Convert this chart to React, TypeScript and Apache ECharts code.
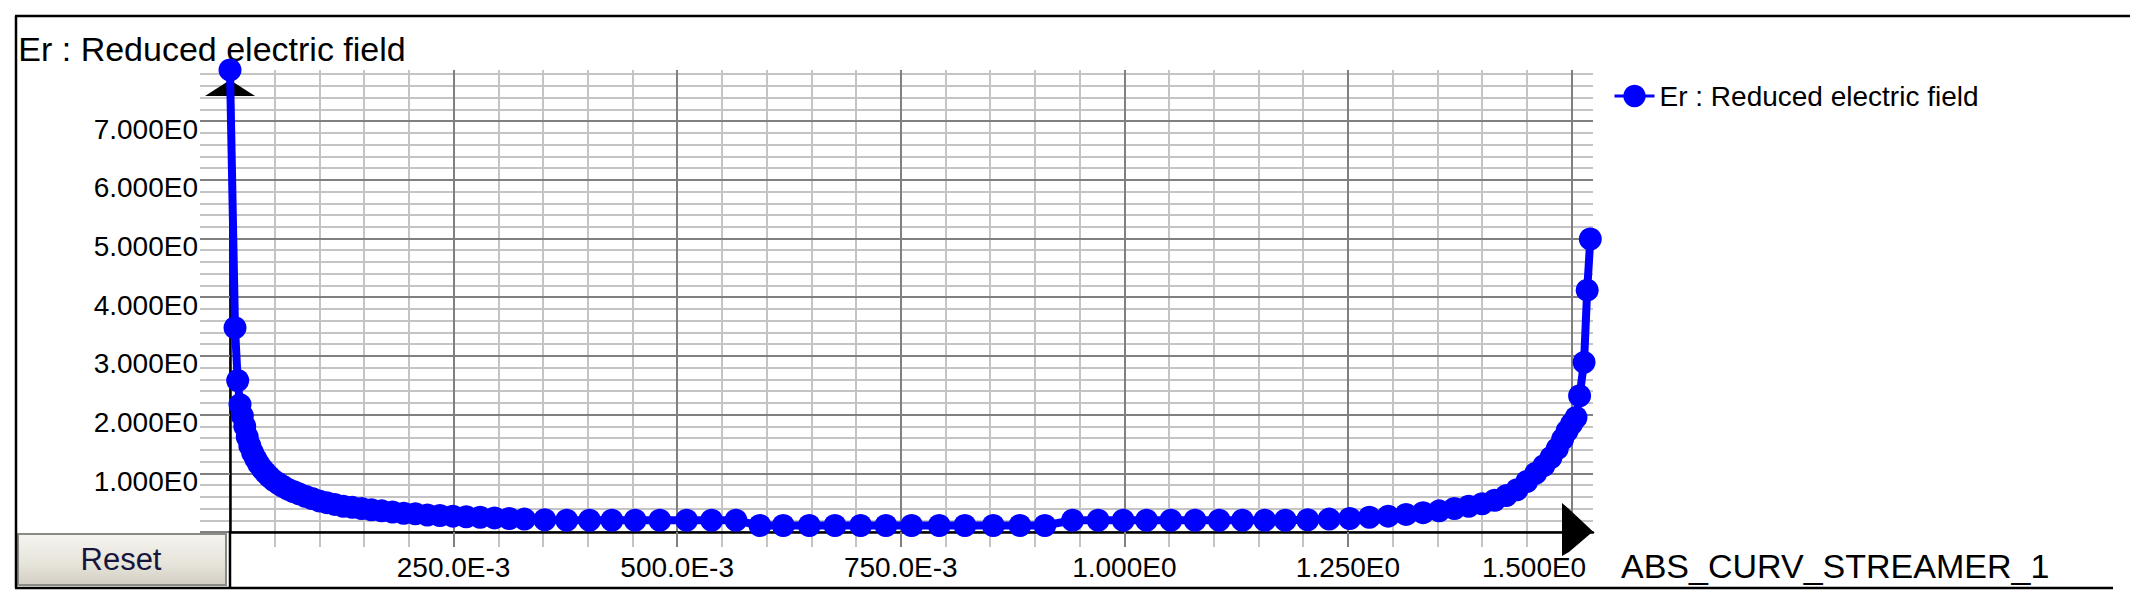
import React, { useEffect, useRef } from 'react';
import * as echarts from 'echarts';

// ---- data ----
const seriesName = 'Er : Reduced electric field';
const xAxisName = 'ABS_CURV_STREAMER_1';

const xValues = [
  0, 0.0056, 0.0086, 0.0112, 0.0138, 0.0165, 0.0193, 0.0222, 0.0253, 0.0286,
  0.0321, 0.0358, 0.0398, 0.0441, 0.0487, 0.0536, 0.0589, 0.0646, 0.0707, 0.0772,
  0.0842, 0.0917, 0.0997, 0.1082, 0.1172, 0.1267, 0.1367, 0.1472, 0.1582, 0.1697,
  0.1817, 0.1942, 0.2072, 0.2207, 0.2347, 0.2492, 0.2642, 0.2797, 0.2957, 0.3122,
  0.3292, 0.352, 0.3765, 0.402, 0.427, 0.453, 0.4806, 0.5105, 0.5385, 0.5657,
  0.5925, 0.6186, 0.6477, 0.6764, 0.7051, 0.7334, 0.7621, 0.793, 0.8217, 0.8534,
  0.8832, 0.9111, 0.9421, 0.9707, 0.9987, 1.0248, 1.052, 1.079, 1.106, 1.132,
  1.157, 1.18, 1.205, 1.229, 1.252, 1.274, 1.295, 1.315, 1.334, 1.352,
  1.369, 1.385, 1.4, 1.414, 1.427, 1.439, 1.45, 1.46, 1.469, 1.477,
  1.484, 1.49, 1.495, 1.5, 1.505, 1.509, 1.514, 1.5175, 1.521,
];
const yValues = [
  7.87, 3.48, 2.58, 2.17, 1.98, 1.8, 1.62, 1.47, 1.35, 1.25,
  1.16, 1.08, 1.01, 0.94, 0.88, 0.83, 0.78, 0.73, 0.69, 0.65,
  0.61, 0.57, 0.53, 0.5, 0.47, 0.44, 0.42, 0.4, 0.38, 0.36,
  0.34, 0.32, 0.31, 0.29, 0.28, 0.27, 0.26, 0.25, 0.24, 0.23,
  0.22, 0.21, 0.2, 0.2, 0.2, 0.2, 0.2, 0.2, 0.2, 0.2,
  0.11, 0.11, 0.11, 0.11, 0.11, 0.11, 0.11, 0.11, 0.11, 0.11,
  0.11, 0.11, 0.2, 0.2, 0.2, 0.2, 0.2, 0.2, 0.2, 0.2,
  0.2, 0.2, 0.21, 0.22, 0.23, 0.25, 0.27, 0.3, 0.33, 0.36,
  0.4, 0.44, 0.48, 0.54, 0.62, 0.72, 0.86, 1.0, 1.13, 1.27,
  1.42, 1.58, 1.72, 1.84, 1.95, 2.32, 2.89, 4.12, 4.99,
];

const xMajorTicks = [0, 0.25, 0.5, 0.75, 1, 1.25, 1.5];
const xTickLabels = ['', '250.0E-3', '500.0E-3', '750.0E-3', '1.000E0', '1.250E0', '1.500E0'];
const yMajorTicks = [0, 1, 2, 3, 4, 5, 6, 7];
const yTickLabels = ['', '1.000E0', '2.000E0', '3.000E0', '4.000E0', '5.000E0', '6.000E0', '7.000E0'];
const X_MAX = 1.524;
const Y_MAX = 7.87;
const X_MINOR_STEP = 0.05;
const Y_MINOR_STEP = 0.2;

const FONT = '"Liberation Sans", Arial, sans-serif';
const DARK = '#808080';
const LIGHT = '#c4c4c4';
const BLUE = '#0000ff';

function minorValues(step: number, max: number, every: number): number[] {
  const out: number[] = [];
  for (let i = 1; i * step <= max + 1e-9; i++) {
    if (i % every !== 0) out.push(Number((i * step).toFixed(4)));
  }
  return out;
}

export default function App() {
  const ref = useRef<HTMLDivElement>(null);

  useEffect(() => {
    document.body.style.margin = '0';
    if (!ref.current) return;
    const chart = echarts.init(ref.current, undefined, { renderer: 'svg' });

    const minorX = minorValues(X_MINOR_STEP, X_MAX, 5);
    const minorY = minorValues(Y_MINOR_STEP, Y_MAX, 5);
    const xLabelValues = xMajorTicks.filter((v, i) => xTickLabels[i] !== '');
    const yLabelValues = yMajorTicks.filter((v, i) => yTickLabels[i] !== '');

    const data = xValues.map((x, i) => [x, yValues[i]]);

    const option: any = {
      animation: false,
      backgroundColor: '#ffffff',
      grid: { left: 230, top: 70, width: 1363, height: 462, containLabel: false },
      legend: {
        data: [seriesName],
        left: 1608,
        top: 77,
        itemWidth: 40,
        itemHeight: 28,
        lineStyle: { width: 3 },
        textStyle: { fontFamily: FONT, fontSize: 28, color: '#000', lineHeight: 28 },
      },
      xAxis: [
        {
          type: 'value', position: 'bottom', min: 0, max: X_MAX, z: 0,
          axisLine: { show: false },
          axisTick: { show: true, length: 15, customValues: minorX, lineStyle: { color: LIGHT, width: 2 } },
          splitLine: { show: true, lineStyle: { color: LIGHT, width: 2 } },
          axisLabel: { show: false },
        },
        {
          type: 'value', position: 'bottom', min: 0, max: X_MAX, z: 1,
          name: xAxisName,
          nameLocation: 'end',
          nameGap: 28,
          nameMoveOverlap: false,
          nameTextStyle: { fontFamily: FONT, fontSize: 34, color: '#000', lineHeight: 68, verticalAlign: 'top', align: 'left' },
          axisLine: { show: true, lineStyle: { color: '#000', width: 2.5 } },
          axisTick: { show: true, length: 15, customValues: xMajorTicks, lineStyle: { color: DARK, width: 2 } },
          splitLine: { show: true, lineStyle: { color: DARK, width: 2 } },
          axisLabel: {
            show: true,
            customValues: xLabelValues,
            margin: 21,
            fontFamily: FONT,
            fontSize: 28,
            lineHeight: 28,
            color: '#000',
            formatter: (v: number) => {
              const i = xMajorTicks.findIndex((t) => Math.abs(t - v) < 1e-6);
              if (i < 0) return '';
              if (i === xMajorTicks.length - 1) return '{r|' + xTickLabels[i] + '}';
              return xTickLabels[i];
            },
            rich: { r: { fontFamily: FONT, fontSize: 28, lineHeight: 28, color: '#000', padding: [0, 75, 0, 0] } },
          },
        },
      ],
      yAxis: [
        {
          type: 'value', position: 'left', min: 0, max: Y_MAX, z: 0,
          axisLine: { show: false },
          axisTick: { show: true, length: 30, customValues: minorY, lineStyle: { color: LIGHT, width: 2 } },
          splitLine: { show: true, lineStyle: { color: LIGHT, width: 2 } },
          axisLabel: { show: false },
        },
        {
          type: 'value', position: 'left', min: 0, max: Y_MAX, z: 1,
          name: seriesName,
          nameLocation: 'end',
          nameGap: 4,
          nameMoveOverlap: false,
          nameTextStyle: { fontFamily: FONT, fontSize: 34, color: '#000', lineHeight: 34, align: 'center', padding: [0, 36, 0, 0] },
          axisLine: { show: true, lineStyle: { color: '#000', width: 2.5 } },
          axisTick: { show: true, length: 30, customValues: yMajorTicks, lineStyle: { color: DARK, width: 2 } },
          splitLine: { show: true, lineStyle: { color: DARK, width: 2 } },
          axisLabel: {
            show: true,
            customValues: yLabelValues,
            margin: 32,
            fontFamily: FONT,
            fontSize: 28,
            lineHeight: 16,
            verticalAlign: 'top',
            color: '#000',
            formatter: (v: number) => {
              const i = yMajorTicks.findIndex((t) => Math.abs(t - v) < 1e-6);
              return i < 0 ? '' : yTickLabels[i];
            },
          },
        },
      ],
      series: [
        {
          name: seriesName,
          type: 'line',
          xAxisIndex: 1,
          yAxisIndex: 1,
          data,
          clip: false,
          showSymbol: true,
          symbol: 'circle',
          symbolSize: 23,
          lineStyle: { color: BLUE, width: 8 },
          itemStyle: { color: BLUE },
          z: 3,
        },
      ],
      graphic: [
        // outer frame
        { type: 'line', z: 5, shape: { x1: 15, y1: 16, x2: 2130, y2: 16 }, style: { stroke: '#000', lineWidth: 2.5 } },
        { type: 'line', z: 5, shape: { x1: 16, y1: 16, x2: 16, y2: 588 }, style: { stroke: '#000', lineWidth: 2.5 } },
        { type: 'line', z: 5, shape: { x1: 15, y1: 588, x2: 2113, y2: 588 }, style: { stroke: '#000', lineWidth: 2.5 } },
        // y axis continuation below the plot
        { type: 'line', z: 5, shape: { x1: 230, y1: 531, x2: 230, y2: 588 }, style: { stroke: '#000', lineWidth: 2.5 } },
        // axis end arrows
        { type: 'polygon', z: 2, shape: { points: [[205, 96], [230, 80], [255, 96]] }, style: { fill: '#000' } },
        { type: 'polygon', z: 2, shape: { points: [[1562, 503], [1569, 509], [1593, 531.5], [1569, 552], [1562, 556]] }, style: { fill: '#000' } },
        // Reset button
        {
          type: 'group',
          z: 5,
          children: [
            {
              type: 'rect',
              shape: { x: 18, y: 534, width: 208, height: 51 },
              style: {
                fill: new echarts.graphic.LinearGradient(0, 0, 0, 1, [
                  { offset: 0, color: '#f5f4ef' },
                  { offset: 0.6, color: '#e6e3da' },
                  { offset: 1, color: '#d2cec3' },
                ]),
                stroke: '#8c8a84',
                lineWidth: 2,
              },
            },
            {
              type: 'text',
              style: {
                x: 121, y: 559.5, text: 'Reset', fill: '#16163c',
                font: '31px "Liberation Sans", Arial, sans-serif',
                textAlign: 'center', textVerticalAlign: 'middle',
              },
            },
          ],
        },
      ],
    };

    chart.setOption(option);
    return () => chart.dispose();
  }, []);

  return <div ref={ref} style={{ width: 2141, height: 612 }} />;
}
